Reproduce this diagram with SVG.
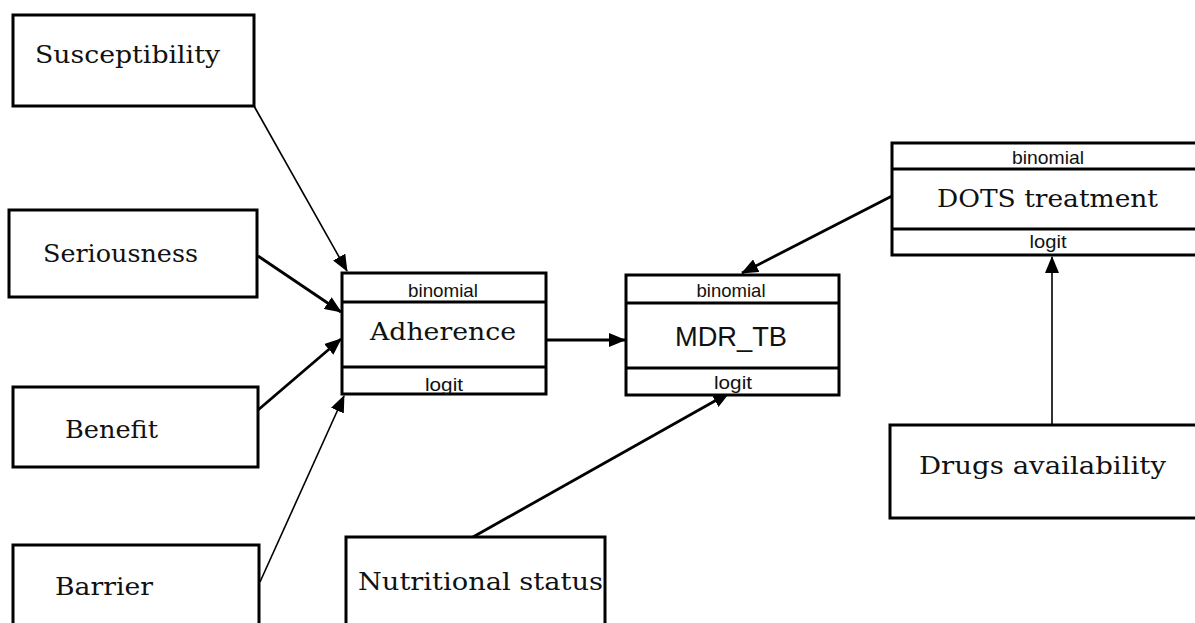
<svg xmlns="http://www.w3.org/2000/svg" width="1195" height="623" viewBox="0 0 1195 623">
<style>
.box{fill:#fff;stroke:#000;stroke-width:3}
.div{stroke:#000;stroke-width:3}
.lbl{font-family:"DejaVu Serif","Liberation Serif",serif;font-size:24px;fill:#111}
.sm{font-family:"Liberation Sans",Arial,sans-serif;font-size:19px;fill:#111;text-anchor:middle}
.sans{font-family:"Liberation Sans",Arial,sans-serif;font-size:28px;fill:#111}
.c{stroke:#000;fill:none;stroke-width:2.8}
.t{stroke-width:1.6}
</style>
<defs>
<marker id="ah" markerUnits="userSpaceOnUse" markerWidth="18" markerHeight="14" refX="16" refY="7" orient="auto">
<path d="M0,0 L17,7 L0,14 z" fill="#000"/>
</marker>
</defs>
<rect width="1195" height="623" fill="#fff"/>
<g id="connectors">
<line class="c t" x1="254" y1="106" x2="347" y2="271" marker-end="url(#ah)"/>
<line class="c" x1="258" y1="256" x2="341" y2="312" marker-end="url(#ah)"/>
<line class="c" x1="258" y1="410" x2="341" y2="339" marker-end="url(#ah)"/>
<line class="c t" x1="260" y1="582" x2="344" y2="396" marker-end="url(#ah)"/>
<line class="c" x1="546" y1="340" x2="625" y2="340" marker-end="url(#ah)"/>
<line class="c" x1="892" y1="196" x2="742" y2="273" marker-end="url(#ah)"/>
<line class="c" x1="473" y1="537" x2="729" y2="393" marker-end="url(#ah)"/>
<line class="c t" x1="1052" y1="425" x2="1052" y2="257" marker-end="url(#ah)"/>
</g>
<g id="susceptibility">
<rect class="box" x="13" y="15" width="241" height="91"/>
<text class="lbl" x="35" y="63" textLength="185" lengthAdjust="spacingAndGlyphs">Susceptibility</text>
</g>
<g id="seriousness">
<rect class="box" x="9" y="210" width="248" height="87"/>
<text class="lbl" x="43" y="262" textLength="155" lengthAdjust="spacingAndGlyphs">Seriousness</text>
</g>
<g id="benefit">
<rect class="box" x="13" y="387" width="245" height="80"/>
<text class="lbl" x="65" y="438" textLength="93" lengthAdjust="spacingAndGlyphs">Benefit</text>
</g>
<g id="barrier">
<rect class="box" x="13" y="545" width="246" height="90"/>
<text class="lbl" x="55" y="595" textLength="98" lengthAdjust="spacingAndGlyphs">Barrier</text>
</g>
<g id="adherence">
<rect class="box" x="342" y="273" width="204" height="121"/>
<line class="div" x1="342" y1="302" x2="546" y2="302"/>
<line class="div" x1="342" y1="367" x2="546" y2="367"/>
<text class="sm" x="443" y="297" textLength="70" lengthAdjust="spacingAndGlyphs">binomial</text>
<text class="lbl" x="370" y="340" textLength="146" lengthAdjust="spacingAndGlyphs">Adherence</text>
<text class="sm" x="444" y="391" textLength="38" lengthAdjust="spacingAndGlyphs">logit</text>
</g>
<g id="mdr_tb">
<rect class="box" x="626" y="275" width="213" height="120"/>
<line class="div" x1="626" y1="303" x2="839" y2="303"/>
<line class="div" x1="626" y1="368" x2="839" y2="368"/>
<text class="sm" x="731" y="297" textLength="69" lengthAdjust="spacingAndGlyphs">binomial</text>
<text class="sans" x="675" y="346" textLength="112" lengthAdjust="spacingAndGlyphs">MDR_TB</text>
<text class="sm" x="733" y="389" textLength="38" lengthAdjust="spacingAndGlyphs">logit</text>
</g>
<g id="dots">
<rect class="box" x="892" y="143" width="310" height="112"/>
<line class="div" x1="892" y1="169" x2="1202" y2="169"/>
<line class="div" x1="892" y1="229" x2="1202" y2="229"/>
<text class="sm" x="1048" y="164" textLength="72" lengthAdjust="spacingAndGlyphs">binomial</text>
<text class="lbl" x="937" y="207" textLength="221" lengthAdjust="spacingAndGlyphs">DOTS treatment</text>
<text class="sm" x="1048" y="248" textLength="37" lengthAdjust="spacingAndGlyphs">logit</text>
</g>
<g id="drugs">
<rect class="box" x="890" y="425" width="312" height="93"/>
<text class="lbl" x="919" y="474" textLength="247" lengthAdjust="spacingAndGlyphs">Drugs availability</text>
</g>
<g id="nutritional">
<rect class="box" x="346" y="537" width="259" height="100"/>
<text class="lbl" x="358" y="590" textLength="245" lengthAdjust="spacingAndGlyphs">Nutritional status</text>
</g>
</svg>
